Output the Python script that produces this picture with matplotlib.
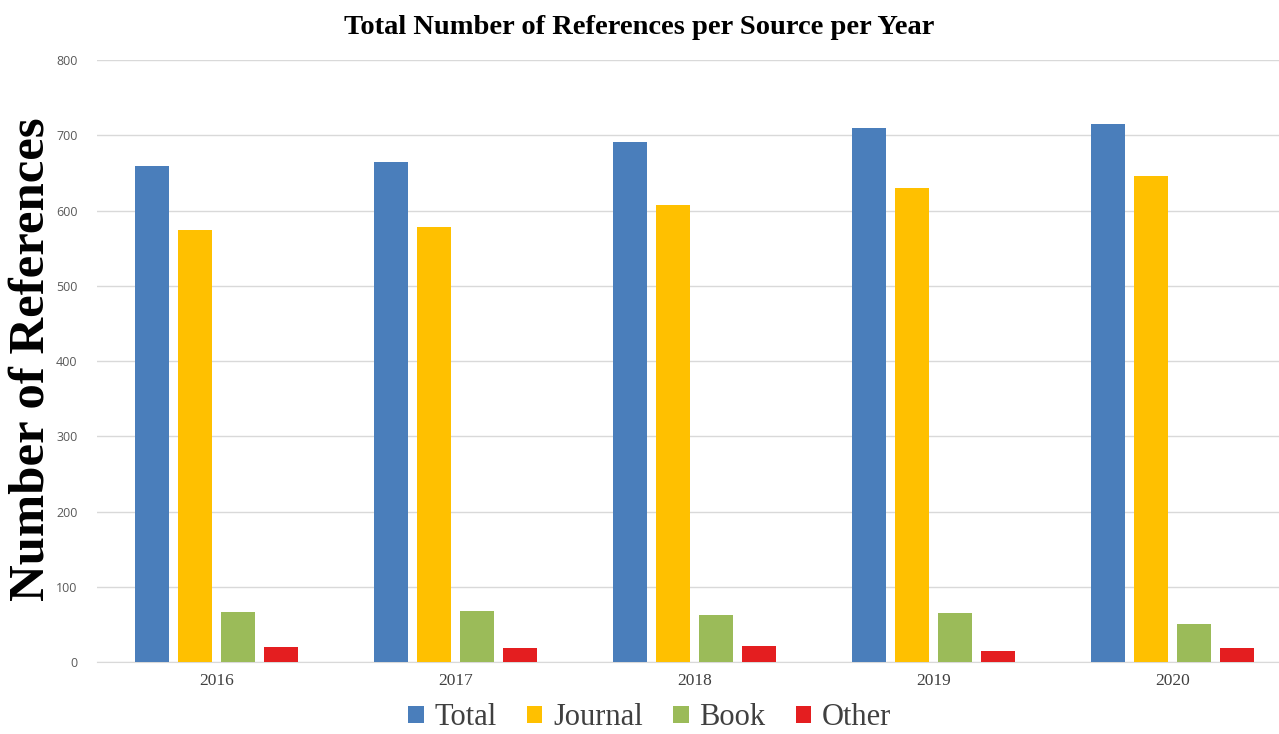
import numpy as np
import matplotlib
matplotlib.use("Agg")
import matplotlib.pyplot as plt

# Data
years = ["2016", "2017", "2018", "2019", "2020"]
total = [660, 665, 691, 710, 715]
journal = [574, 578, 607, 630, 646]
book = [66, 68, 62, 65, 50]
other = [20, 19, 21, 15, 19]

series = [("Total", total, "#4a7ebb"),
          ("Journal", journal, "#ffc000"),
          ("Book", book, "#9bbb59"),
          ("Other", other, "#e41e20")]

fig = plt.figure(figsize=(12.79, 7.34), dpi=100)
ax = fig.add_axes([0.0758, 0.098, 0.9242, 0.82])

x = np.arange(len(years))
width = 0.143
step = 0.18
for i, (name, vals, color) in enumerate(series):
    ax.bar(x + (i - 1.5) * step, vals, width, color=color, label=name, zorder=3)

ax.set_xlim(-0.5, 4.445)
ax.set_ylim(0, 800)
ax.set_yticks(range(0, 801, 100))
ax.yaxis.grid(True, color="#d9d9d9", linewidth=1, zorder=0)
for s in ["top", "right", "left"]:
    ax.spines[s].set_visible(False)
ax.spines["bottom"].set_color("#d9d9d9")
ax.tick_params(axis="both", length=0)
ax.tick_params(axis="y", labelsize=9, labelcolor="#595959", pad=14)
ax.set_yticklabels([str(v) for v in range(0, 801, 100)], family="Open Sans")
ax.set_xticks(x)
ax.set_xticklabels(years, family="Liberation Serif", fontsize=12.5, color="#404040")
ax.tick_params(axis="x", pad=8)

fig.text(0.5, 0.963, "Total Number of References per Source per Year",
         ha="center", va="center", family="Liberation Serif",
         fontweight="bold", fontsize=20.5)
fig.text(0.025, 0.51, "Number of References", rotation=90,
         ha="center", va="center", family="Liberation Serif",
         fontweight="bold", fontsize=36.5)

leg = fig.legend(loc="center", bbox_to_anchor=(0.508, 0.022), ncol=4, frameon=False,
                 prop={"family": "Liberation Serif", "size": 22},
                 handlelength=0.5, handleheight=0.5, handletextpad=0.35,
                 columnspacing=1.0, labelcolor="#404040")

fig.savefig("out.png", dpi=100)
